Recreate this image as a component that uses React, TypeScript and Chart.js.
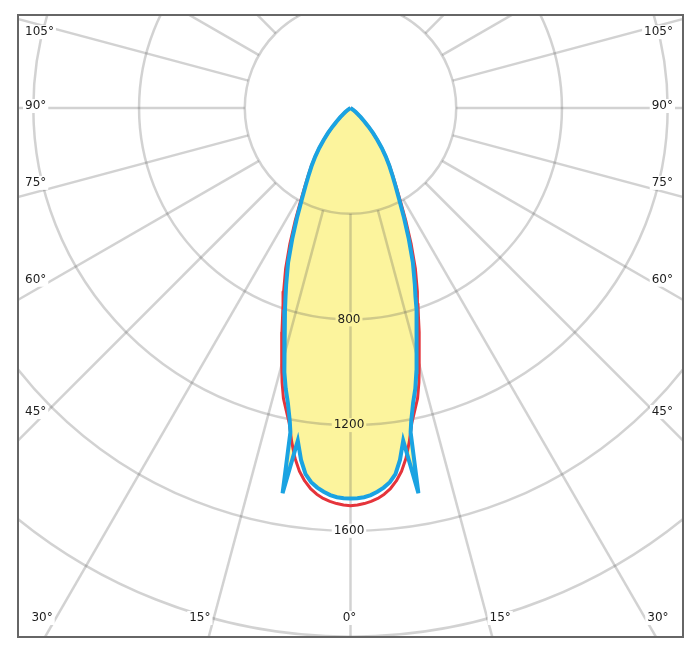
import { useEffect, useRef } from 'react';
import { Chart, registerables } from 'chart.js';

Chart.register(...registerables);

// Polar angles (degrees from nadir) used for both curves; mirrored to the other half-plane
const ANGLES = [0, 1, 2, 3, 4, 5, 6, 7, 8, 9, 10, 10.5, 11, 12, 13, 14, 15, 16, 17, 18, 19, 20, 22, 24, 26, 28, 30, 32, 34, 36, 38, 40, 42, 44, 46, 48, 50, 52, 55, 58, 60];
// Luminous intensity (cd) - C0/C180 plane (red)
const C0_C180 = [1505, 1503, 1498, 1491, 1481, 1467, 1448, 1422, 1388, 1342, 1282, 1247, 1215, 1170, 1128, 1070, 1005, 945, 887, 832, 784, 740, 655, 565, 480, 405, 348, 303, 265, 228, 193, 159, 128, 98, 73, 52, 36, 25, 12, 4, 0];
// Luminous intensity (cd) - C90/C270 plane (blue)
const C90_C270 = [1478, 1477, 1474, 1467, 1456, 1442, 1424, 1396, 1345, 1275, 1480, 1248, 1205, 1140, 1090, 1030, 970, 910, 855, 802, 755, 712, 630, 542, 462, 393, 340, 298, 262, 227, 192, 158, 127, 97, 72, 52, 36, 25, 12, 4, 0];

const RINGS = [400, 800, 1200, 1600, 2000, 2400, 2800];
const RING_LABELS = [800, 1200, 1600];
const SPOKES = [0, 15, 30, 45, 60, 75, 90, 105, 120, 135, 150, 165, 180, 195, 210, 225, 240, 255, 270, 285, 300, 315, 330, 345];
const SIDE_LABELS = [105, 90, 75, 60, 45];
const BOTTOM_LABELS = [-30, -15, 0, 15, 30];

const RED = '#e5343b';
const BLUE = '#1aa3e2';
const FILL = '#fcf49d';
const GRID = 'rgba(90,90,90,0.27)';
const FONT = '12px "DejaVu Sans", Verdana, sans-serif';

function toPoints(values: number[]) {
  const pts: { x: number; y: number }[] = [];
  for (let i = ANGLES.length - 1; i >= 0; i--) {
    const a = (ANGLES[i] * Math.PI) / 180;
    pts.push({ x: -values[i] * Math.sin(a), y: -values[i] * Math.cos(a) });
  }
  for (let i = 1; i < ANGLES.length; i++) {
    const a = (ANGLES[i] * Math.PI) / 180;
    pts.push({ x: values[i] * Math.sin(a), y: -values[i] * Math.cos(a) });
  }
  return pts;
}

function labelWithBg(ctx: CanvasRenderingContext2D, text: string, x: number, y: number, align: CanvasTextAlign, bg: string) {
  ctx.font = FONT;
  const w = ctx.measureText(text).width;
  let left = x;
  if (align === 'center') left = x - w / 2;
  else if (align === 'right') left = x - w;
  ctx.fillStyle = bg;
  ctx.fillRect(left - 2, y - 7, w + 4, 14);
  ctx.fillStyle = '#1c1c1c';
  ctx.textAlign = align;
  ctx.textBaseline = 'middle';
  ctx.fillText(text, x, y);
}

const polarGrid = {
  id: 'polarGrid',
  afterDatasetDraw(chart: any, args: any) {
    if (args.index !== 2) return;
    const ctx: CanvasRenderingContext2D = chart.ctx;
    const area = chart.chartArea;
    const xs = chart.scales.x;
    const ys = chart.scales.y;
    const cx = xs.getPixelForValue(0);
    const cy = ys.getPixelForValue(0);
    const k = xs.getPixelForValue(1000) - cx;
    const px = (r: number, deg: number) => {
      const a = (deg * Math.PI) / 180;
      return [xs.getPixelForValue(r * Math.sin(a)), ys.getPixelForValue(-r * Math.cos(a))];
    };
    ctx.save();
    ctx.beginPath();
    ctx.rect(area.left, area.top, area.right - area.left, area.bottom - area.top);
    ctx.clip();
    ctx.strokeStyle = GRID;
    ctx.lineWidth = 2.5;
    for (const r of RINGS) {
      ctx.beginPath();
      ctx.arc(cx, cy, (r * k) / 1000, 0, Math.PI * 2);
      ctx.stroke();
    }
    for (const s of SPOKES) {
      const [x0, y0] = px(RINGS[0], s);
      const [x1, y1] = px(4000, s);
      ctx.beginPath();
      ctx.moveTo(x0, y0);
      ctx.lineTo(x1, y1);
      ctx.stroke();
    }
    // ring labels along the 0° axis
    for (const r of RING_LABELS) {
      const [x, y] = px(r, 0);
      labelWithBg(ctx, String(r), x - 1.5, y, 'center', r < C90_C270[0] ? FILL : '#ffffff');
    }
    // angle labels on the sides
    const h = 313;
    for (const s of SIDE_LABELS) {
      const a = (s * Math.PI) / 180;
      const yl = cy + (h * Math.cos(a)) / Math.sin(a);
      const off = s < 90 ? -9 : s > 90 ? 8 : -2;
      labelWithBg(ctx, s + '°', area.left + 7, yl + off, 'left', '#ffffff');
      labelWithBg(ctx, s + '°', area.right - 10, yl + off, 'right', '#ffffff');
    }
    // angle labels at the bottom
    const yb = area.bottom - 19;
    for (const s of BOTTOM_LABELS) {
      const a = (s * Math.PI) / 180;
      const dx = (yb - cy) * Math.tan(a);
      const shift = s < 0 ? -14 : s > 0 ? 13 : -1;
      labelWithBg(ctx, Math.abs(s) + '°', cx + dx + shift, yb, 'center', '#ffffff');
    }
    ctx.restore();
  },
  afterDraw(chart: any) {
    const ctx: CanvasRenderingContext2D = chart.ctx;
    const area = chart.chartArea;
    ctx.save();
    ctx.strokeStyle = '#666666';
    ctx.lineWidth = 2;
    ctx.strokeRect(area.left, area.top, area.right - area.left, area.bottom - area.top);
    ctx.restore();
  },
};

export default function App() {
  const ref = useRef<HTMLCanvasElement | null>(null);
  useEffect(() => {
    if (!ref.current) return;
    const chart = new Chart(ref.current, {
      type: 'scatter',
      data: {
        datasets: [
          {
            label: 'C0-C180',
            data: toPoints(C0_C180),
            showLine: true,
            borderColor: RED,
            borderWidth: 3,
            borderJoinStyle: 'round',
            pointRadius: 0,
            fill: false,
            order: 2,
          },
          {
            label: 'C90-C270',
            data: toPoints(C90_C270),
            showLine: true,
            borderColor: BLUE,
            borderWidth: 4,
            pointRadius: 0,
            fill: false,
            order: 1,
          },
          {
            label: 'fill',
            data: toPoints(C90_C270),
            showLine: true,
            borderWidth: 0,
            borderColor: 'rgba(0,0,0,0)',
            backgroundColor: FILL,
            pointRadius: 0,
            fill: 'shape',
            order: 3,
          },
        ],
      } as any,
      options: {
        animation: false,
        responsive: true,
        maintainAspectRatio: false,
        layout: { padding: { left: 10, top: 7, right: 9, bottom: 11 } },
        scales: {
          x: { type: 'linear', min: -1258, max: 1258, display: false },
          y: { type: 'linear', min: -2002, max: 352, display: false },
        },
        plugins: {
          legend: { display: false },
          tooltip: { enabled: false },
        },
        events: [],
      } as any,
      plugins: [polarGrid],
    });
    return () => chart.destroy();
  }, []);
  return (
    <div style={{ width: 684, height: 640, position: 'relative' }}>
      <canvas ref={ref} />
    </div>
  );
}
